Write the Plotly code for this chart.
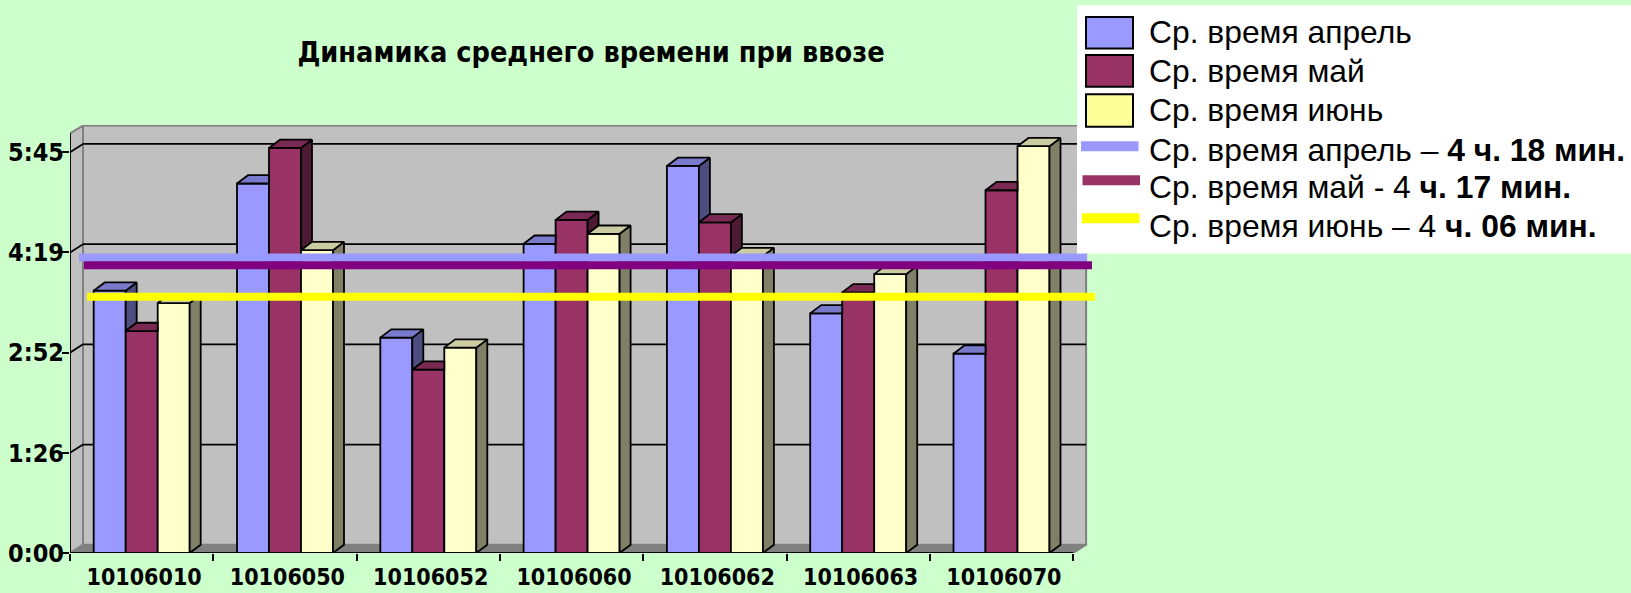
import plotly.graph_objects as go

# ---------- data (minutes) ----------
categories = ["10106010", "10106050", "10106052", "10106060", "10106062", "10106063", "10106070"]
april = [225.8, 318.1, 185.4, 266.2, 333.2, 206.3, 171.6]
may = [191.1, 348.7, 157.8, 286.8, 284.6, 224.4, 312.3]
june = [215.2, 260.7, 176.8, 274.8, 255.6, 240.1, 350.2]
avg_april = 254.5
avg_may = 247.8
avg_june = 220.6
y_tick_values = [0, 86.25, 172.5, 258.75, 345]
y_tick_labels = ["0:00", "1:26", "2:52", "4:19", "5:45"]
title_text = "Динамика среднего времени при ввозе"
legend_labels = [
    "Ср. время апрель", "Ср. время май", "Ср. время июнь",
    "Ср. время апрель – <b>4 ч. 18 мин.</b>",
    "Ср. время май - 4 <b>ч. 17 мин.</b>",
    "Ср. время июнь – 4 <b>ч. 06 мин.</b>",
]

# ---------- geometry ----------
W, H = 1631, 593
L, R, T, B = 70, 1097, 124.7, 553.3
PX_X = 143.3
PX_Y = 401.3 / 345
x_max = (R - L) / PX_X
y_max = (B - T) / PX_Y
wall_dx = 13 / PX_X
wall_dy = 8.3 / PX_Y
bar_dx = 11 / PX_X
bar_dy = 8.3 / PX_Y
bar_w = 32 / PX_X
group_start = (93.7 - L) / PX_X
y_front_top = y_max - wall_dy
FONT_AXIS = "DejaVu Sans Condensed"


def fx(px):
    return (px - L) / (R - L)


def fy(py):
    return (B - py) / (B - T)


def dxv(px):
    return (px - L) / PX_X


series = [
    dict(name="апрель", v=april, front="#9999FF", top="#7A7ACC", side="#4D4D80"),
    dict(name="май", v=may, front="#993366", top="#7A2952", side="#4D1A33"),
    dict(name="июнь", v=june, front="#FFFFCC", top="#CCCCA3", side="#808066"),
]

fig = go.Figure()

# front faces
for k, s in enumerate(series):
    fig.add_trace(go.Bar(
        x=[i + group_start + (k + 0.5) * bar_w for i in range(len(categories))],
        y=s["v"], width=bar_w, name=s["name"],
        marker=dict(color=s["front"], line=dict(color="black", width=1.8)),
        showlegend=False,
    ))

# top and side faces (hidden parts are covered by clipping to the next bar's height)
for k, s in enumerate(series):
    tx, ty, sx, sy = [], [], [], []
    for i, v in enumerate(s["v"]):
        x0 = i + group_start + k * bar_w
        x1 = x0 + bar_w
        nxt = series[k + 1]["v"][i] if k < 2 else None
        if nxt is not None and nxt > v:
            tx += [x0, x0 + bar_dx, x1, x1, x0, None]
            ty += [v, v + bar_dy, v + bar_dy, v, v, None]
            if nxt < v + bar_dy:
                t = (nxt - v) / bar_dy * bar_dx
                sx += [x1 + t, x1 + bar_dx, x1 + bar_dx, x1 + t, None]
                sy += [nxt, v + bar_dy, nxt, nxt, None]
        else:
            tx += [x0, x0 + bar_dx, x1 + bar_dx, x1, x0, None]
            ty += [v, v + bar_dy, v + bar_dy, v, v, None]
            base = nxt if nxt is not None else 0
            sx += [x1, x1 + bar_dx, x1 + bar_dx, x1, x1, None]
            sy += [v, v + bar_dy, base + bar_dy, base, v, None]
    fig.add_trace(go.Scatter(x=sx, y=sy, mode="lines", fill="toself", fillcolor=s["side"],
                             line=dict(color="black", width=1.8), showlegend=False, hoverinfo="skip"))
    fig.add_trace(go.Scatter(x=tx, y=ty, mode="lines", fill="toself", fillcolor=s["top"],
                             line=dict(color="black", width=1.8), showlegend=False, hoverinfo="skip"))

# average lines
for level, color, a, b in [
    (avg_april, "#9999FF", 79, 1087),
    (avg_may, "#800080", 84, 1092),
    (avg_june, "#FFFF00", 87, 1095),
]:
    fig.add_trace(go.Scatter(x=[dxv(a), dxv(b)], y=[level, level], mode="lines",
                             line=dict(color=color, width=8),
                             showlegend=False, hoverinfo="skip"))

shapes = []


def poly(pts, fill, line="rgba(0,0,0,0)", width=0):
    path = "M" + " L".join(f"{x},{y}" for x, y in pts) + " Z"
    shapes.append(dict(type="path", path=path, xref="x", yref="y", layer="below",
                       fillcolor=fill, line=dict(color=line, width=width)))


def seg(x0, y0, x1, y1, color="black", width=1.8):
    shapes.append(dict(type="line", x0=x0, y0=y0, x1=x1, y1=y1, xref="x", yref="y",
                       layer="below", line=dict(color=color, width=width)))


n = len(categories)
poly([(wall_dx, wall_dy), (n + wall_dx, wall_dy), (n + wall_dx, y_max - 0.5), (wall_dx, y_max - 0.5)], "#C0C0C0", "#808080", 2)
poly([(0, 0), (wall_dx, wall_dy), (wall_dx, y_max - 0.5), (0, y_front_top)], "#C0C0C0", "#808080", 2)
poly([(0, 0), (wall_dx, wall_dy), (n + wall_dx, wall_dy), (n, 0)], "#808080")
seg(n, 0, n + wall_dx, wall_dy, "#808080", 2)
for v in y_tick_values[1:]:
    seg(wall_dx, v + wall_dy, n + wall_dx, v + wall_dy)
    seg(0, v, wall_dx, v + wall_dy)
seg(0, 0, 0, y_front_top)
seg(0, 0, n, 0)

# legend panel
shapes.append(dict(type="rect", xref="paper", yref="paper", x0=fx(1077), x1=fx(1631), y0=fy(253.5), y1=fy(5),
                   fillcolor="white", line=dict(width=0), layer="above"))
swatches = [(16.5, 48, "#9999FF"), (54.5, 86.5, "#993366"), (94, 126.5, "#FFFF99")]
for y0, y1, c in swatches:
    shapes.append(dict(type="rect", xref="paper", yref="paper", x0=fx(1086), x1=fx(1133), y0=fy(y1), y1=fy(y0),
                       fillcolor=c, line=dict(color="black", width=2), layer="above"))
for x0, yc, c in [(1081, 146, "#9999FF"), (1082.5, 180, "#993366"), (1082, 218, "#FFFF00")]:
    shapes.append(dict(type="rect", xref="paper", yref="paper", x0=fx(x0), x1=fx(x0 + 57.5), y0=fy(yc + 5), y1=fy(yc - 5),
                       fillcolor=c, line=dict(width=0), layer="above"))

annotations = []
for text, yc in zip(legend_labels, [32, 71, 110, 150, 187, 226]):
    annotations.append(dict(text=text, xref="paper", yref="paper", x=fx(1147), y=fy(yc),
                            xanchor="left", yanchor="middle", showarrow=False,
                            font=dict(family="Liberation Sans", size=31.8, color="black")))

fig.update_layout(
    width=W, height=H, margin=dict(l=L, r=W - R, t=T, b=H - B, pad=0),
    paper_bgcolor="#CCFFCC", plot_bgcolor="#CCFFCC",
    barmode="overlay", showlegend=False, shapes=shapes, annotations=annotations,
    title=dict(text=f"<b>{title_text}</b>", x=591 / W, xanchor="center", y=1 - 52 / H, yanchor="middle",
               font=dict(family=FONT_AXIS, size=28.6, color="black")),
    xaxis=dict(range=[0, x_max], tickmode="array", tickvals=[i + 0.517 for i in range(n)], ticktext=categories,
               ticks="", showgrid=False, zeroline=False, showline=False, automargin=False,
               ticklabelstandoff=8,
               tickfont=dict(family=FONT_AXIS, size=23, color="black", weight="bold"),
               minor=dict(tickmode="linear", tick0=0, dtick=1, ticks="outside", ticklen=7, tickwidth=1.8, tickcolor="black", showgrid=False)),
    yaxis=dict(range=[0, y_max], tickmode="array", tickvals=y_tick_values, ticktext=y_tick_labels,
               ticks="outside", ticklen=7, tickwidth=1.8, tickcolor="black", showgrid=False, zeroline=False, showline=False,
               automargin=False, ticklabelstandoff=-7,
               tickfont=dict(family=FONT_AXIS, size=25, color="black", weight="bold")),
)

fig.write_html("out.html", config=dict(displayModeBar=False),
               post_script="document.body.style.margin='0';document.body.style.overflow='hidden';")
